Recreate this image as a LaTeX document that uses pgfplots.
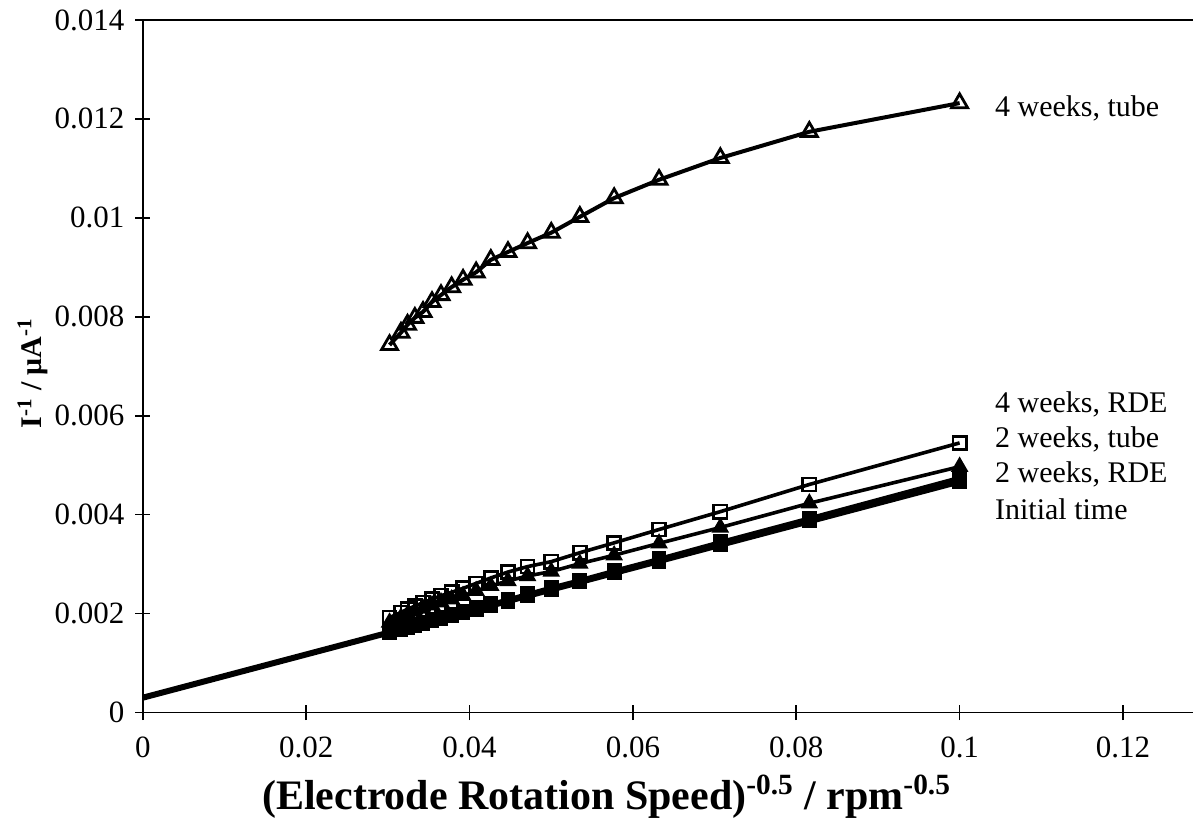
\documentclass[border=0pt]{standalone}
\usepackage{fontspec}
\setmainfont{Liberation Serif}
\usepackage{graphicx}
\usepackage{pgfplots}
\pgfplotsset{compat=1.18}
\usepackage{pgfplotstable}

\pgfplotstableread{
x      tube4   rde4    tube2   rde2    init
0.0302 0.00743 0.00192 0.00182 0.00166 0.00162
0.0316 0.00768 0.00202 0.00192 0.00171 0.00168
0.0324 0.00784 0.00209 0.00198 0.00174 0.00172
0.0333 0.00798 0.00215 0.00204 0.00178 0.00176
0.0343 0.00810 0.00222 0.00210 0.00183 0.00180
0.0354 0.00830 0.00229 0.00217 0.00188 0.00185
0.0365 0.00844 0.00236 0.00223 0.00192 0.00190
0.0378 0.00860 0.00243 0.00229 0.00198 0.00195
0.0392 0.00875 0.00251 0.00236 0.00204 0.00201
0.0408 0.00890 0.00261 0.00246 0.00212 0.00208
0.0426 0.00915 0.00272 0.00256 0.00220 0.00216
0.0447 0.00931 0.00284 0.00266 0.00229 0.00225
0.0471 0.00949 0.00295 0.00276 0.00240 0.00236
0.0500 0.00970 0.00305 0.00285 0.00253 0.00249
0.0535 0.01002 0.00323 0.00301 0.00268 0.00264
0.0577 0.01040 0.00343 0.00318 0.00287 0.00282
0.0632 0.01077 0.00370 0.00342 0.00311 0.00306
0.0707 0.01121 0.00406 0.00374 0.00345 0.00339
0.0816 0.01174 0.00461 0.00423 0.00393 0.00387
0.1000 0.01232 0.00545 0.00497 0.00475 0.00467
}\data

\begin{document}
\begin{tikzpicture}
\begin{axis}[name=ax, scale only axis, width=525.5pt, height=346.5pt,
  xmin=0, xmax=0.1286, ymin=0, ymax=0.014,
  axis x line=box, axis y line=left,
  axis line style={-, line width=0.8pt, black},
  xtick={0,0.02,0.04,0.06,0.08,0.1,0.12},
  ytick={0,0.002,0.004,0.006,0.008,0.01,0.012,0.014},
  xtick pos=bottom,
  tick align=center, major tick length=7.5pt,
  tick style={line width=0.8pt, black},
  scaled ticks=false,
  /pgf/number format/assume math mode=true,
  every tick label/.append style={font=\fontsize{15.5}{18}\selectfont},
  xticklabel={\pgfmathprintnumber[fixed,precision=3]{\tick}},
  yticklabel={\pgfmathprintnumber[fixed,precision=3]{\tick}},
  xticklabel style={yshift=-5pt},
  yticklabel style={xshift=-2pt},
  xlabel={\bfseries (Electrode Rotation Speed)\textsuperscript{-0.5} / rpm\textsuperscript{-0.5}},
  xlabel style={at={(axis description cs:0.4415,-0.1212)}, anchor=center, font=\fontsize{21}{25}\selectfont},
  ylabel={\bfseries I\textsuperscript{-1} / μA\textsuperscript{-1}},
  ylabel style={at={(axis description cs:-0.1047,0.49)}, anchor=center, font=\fontsize{15}{18}\selectfont},
  clip=false,
]
\addplot[black, line width=3pt, no marks] coordinates {(0,0.0003) (0.1,0.00467)};
\addplot[black, line width=2pt, mark=triangle, mark size=4.6pt, mark options={fill=white, line width=1.4pt, solid}] table[x=x, y=tube4] {\data};
\addplot[black, line width=1.8pt, mark=square*, mark size=3.3pt, mark options={fill=black, line width=0.8pt}] table[x=x, y=init] {\data};
\addplot[black, line width=1.8pt, mark=square*, mark size=3.3pt, mark options={fill=black, line width=0.8pt}] table[x=x, y=rde2] {\data};
\addplot[black, line width=1.8pt, mark=triangle*, mark size=4.3pt, mark options={fill=black, line width=0.8pt}] table[x=x, y=tube2] {\data};
\addplot[black, line width=1.8pt, mark=square, mark size=3.3pt, mark options={fill=white, line width=1.3pt}] table[x=x, y=rde4] {\data};
\begin{scope}[every node/.style={anchor=west, inner sep=0pt, font=\fontsize{15}{18}\selectfont}]
\node at (axis cs:0.1043,0.01222) {4 weeks, tube};
\node at (axis cs:0.1043,0.00622) {4 weeks, RDE};
\node at (axis cs:0.1043,0.00552) {2 weeks, tube};
\node at (axis cs:0.1043,0.00481) {2 weeks, RDE};
\node at (axis cs:0.1043,0.00410) {Initial time};
\end{scope}
\end{axis}
\path (ax.south west) ++(-71.5pt,-52.5pt) coordinate (bl);
\path (ax.north east) ++(0pt,10pt) coordinate (tr);
\path (bl) rectangle (tr);
\end{tikzpicture}
\end{document}
